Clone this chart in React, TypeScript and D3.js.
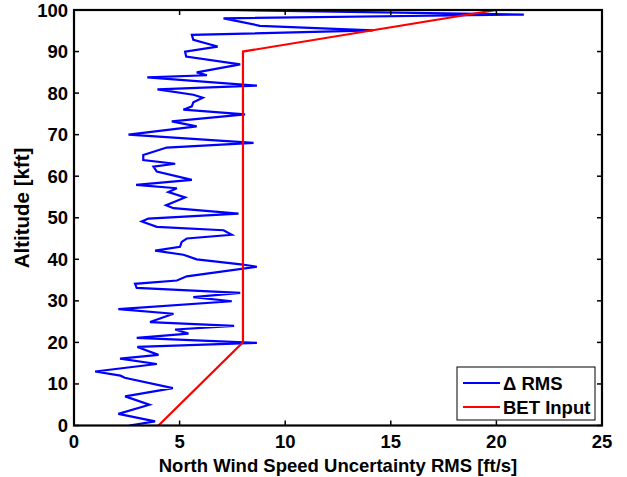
import React from "react";
import * as d3 from "d3";

const rmsAltitude = [
  0, 1, 2.8, 5, 7, 9, 11.5, 12, 13, 14.8, 16.1, 17, 18.9, 19.9, 21.1, 22.1, 23.1, 24, 24.9, 26.9,
  28, 29.9, 30.9, 31.9, 33.1, 34.1, 34.9, 35.9, 38.2, 38.8, 40, 41.1, 42.1, 43, 44.2, 45, 45.9, 47,
  47.8, 49.1, 49.8, 51, 52.3, 53, 54.9, 56.2, 57.1, 57.9, 59.1, 61.1, 62.3, 63, 63.9, 65.1, 66.9,
  68, 70, 72, 73.2, 74.9, 76, 76.8, 77.8, 78.9, 79.6, 80.9, 81.8, 83.8, 84.3, 85, 86.9, 88.8, 90,
  91.2, 92.8, 94, 95.1, 96.2, 98, 98.9, 100,
];
const rmsValue = [
  2.62, 3.84, 2.1, 3.57, 2.42, 4.68, 2.4, 2.2, 1.0, 3.92, 2.18, 4.0, 3.0, 8.66, 2.97, 5.42, 4.79, 7.58, 3.6, 4.71,
  2.1, 7.47, 5.65, 7.87, 2.97, 2.89, 4.87, 5.34, 8.66, 7.9, 5.81, 5.18, 3.84, 5.02, 5.1, 5.34, 7.47, 7.08,
  3.92, 3.21, 3.52, 7.79, 4.71, 4.36, 5.26, 4.47, 4.87, 2.94, 5.58, 3.92, 3.76, 4.79, 3.28, 3.28, 4.39,
  8.5, 2.58, 5.81, 4.63, 8.1, 5.18, 5.58, 5.65, 6.1, 5.65, 3.95, 8.66, 3.47, 6.29, 5.81, 7.87, 5.31, 5.26,
  6.8, 5.65, 5.58, 14.15, 8.8, 7.08, 21.3, 7.3,
];
const betAltitude = [0, 20, 90, 100];
const betValue = [4, 8, 8, 20];
const xTicks = [0, 5, 10, 15, 20, 25];
const yTicks = [0, 10, 20, 30, 40, 50, 60, 70, 80, 90, 100];
const legendLabels = ["\u0394 RMS", "BET Input"];
const seriesColors = ["#0000ff", "#ff0000"];

const W = 627;
const H = 477;
const L = 74;
const R = 602;
const T = 10;
const B = 425.5;
const FONT = "'Liberation Sans', Arial, Helvetica, sans-serif";
const FS = 18.5;

export default function App() {
  const x = d3.scaleLinear().domain([0, 25]).range([L, R]);
  const y = d3.scaleLinear().domain([0, 100]).range([B, T]);
  const line = d3
    .line<[number, number]>()
    .x((d) => x(d[0]))
    .y((d) => y(d[1]));
  const rms: [number, number][] = rmsValue.map((v, i) => [v, rmsAltitude[i]]);
  const bet: [number, number][] = betValue.map((v, i) => [v, betAltitude[i]]);
  const tk = 5;

  return (
    <svg
      width={W}
      height={H}
      style={{ position: "absolute", left: 0, top: 0, background: "#fff" }}
      fontFamily={FONT}
      fontWeight="bold"
    >
      <rect x={0} y={0} width={W} height={H} fill="#fff" />
      <defs>
        <clipPath id="plotclip">
          <rect x={L} y={T} width={R - L} height={B - T} />
        </clipPath>
      </defs>
      <g clipPath="url(#plotclip)">
        <path d={line(rms) || ""} fill="none" stroke={seriesColors[0]} strokeWidth={2.2} />
        <path d={line(bet) || ""} fill="none" stroke={seriesColors[1]} strokeWidth={2.2} />
      </g>
      {xTicks.map((t) => (
        <g key={"x" + t}>
          <line x1={x(t)} x2={x(t)} y1={B} y2={B - tk} stroke="#000" strokeWidth={1.5} />
          <line x1={x(t)} x2={x(t)} y1={T} y2={T + tk} stroke="#000" strokeWidth={1.5} />
          <text x={x(t)} y={448} textAnchor="middle" fontSize={FS}>
            {t}
          </text>
        </g>
      ))}
      {yTicks.map((t) => (
        <g key={"y" + t}>
          <line x1={L} x2={L + tk} y1={y(t)} y2={y(t)} stroke="#000" strokeWidth={1.5} />
          <line x1={R} x2={R - tk} y1={y(t)} y2={y(t)} stroke="#000" strokeWidth={1.5} />
          <text x={68} y={y(t) + 6.5} textAnchor="end" fontSize={FS}>
            {t}
          </text>
        </g>
      ))}
      <rect x={L} y={T} width={R - L} height={B - T} fill="none" stroke="#000" strokeWidth={2.2} />
      <g>
        <rect x={457} y={367} width={138} height={53} fill="#fff" stroke="#000" strokeWidth={1} />
        {legendLabels.map((lab, i) => (
          <g key={lab}>
            <line x1={463} x2={500} y1={383 + i * 24} y2={383 + i * 24} stroke={seriesColors[i]} strokeWidth={2} />
            <text x={503} y={389.5 + i * 24} fontSize={FS}>
              {lab}
            </text>
          </g>
        ))}
      </g>
      <text x={338} y={472} textAnchor="middle" fontSize={FS}>
        North Wind Speed Uncertainty RMS [ft/s]
      </text>
      <text transform={`translate(29, 208) rotate(-90)`} textAnchor="middle" fontSize={20.5}>
        Altitude [kft]
      </text>
    </svg>
  );
}
